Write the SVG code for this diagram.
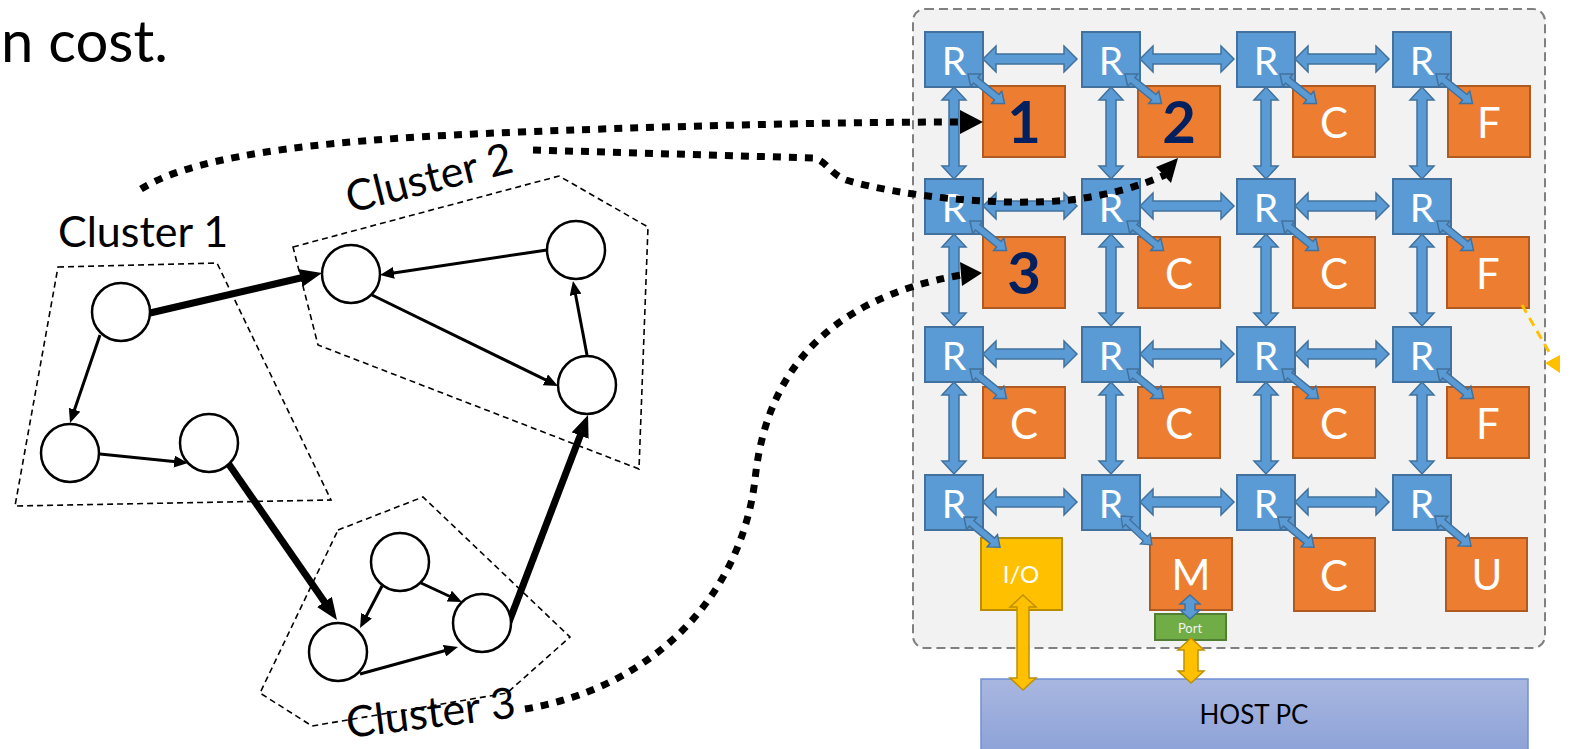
<svg xmlns="http://www.w3.org/2000/svg" xmlns:xlink="http://www.w3.org/1999/xlink" width="1575" height="749" viewBox="0 0 1575 749">
<style>
  text { font-family: Lato, "Liberation Sans", sans-serif; }
  .rt { fill: #5b9bd5; stroke: #41719c; stroke-width: 2; }
  .rl { fill: #ffffff; font-size: 39px; text-anchor: middle; }
  .tile { fill: #ed7d31; stroke: #ae5a21; stroke-width: 2; }
  .tl { fill: #ffffff; font-size: 42px; text-anchor: middle; }
  .num { fill: #002060; font-size: 58px; font-weight: bold; text-anchor: middle; }
  .barr { fill: #5b9bd5; stroke: #41719c; stroke-width: 1.5; }
  .yarr { fill: #ffc000; stroke: #bf9000; stroke-width: 1.5; }
  .nd { fill: #ffffff; stroke: #000000; stroke-width: 2.5; }
  .thin { stroke: #000000; stroke-width: 3; fill: none; marker-end: url(#mThin); }
  .thick { stroke: #000000; stroke-width: 7; fill: none; marker-end: url(#mThick); }
  .cl { fill: none; stroke: #000000; stroke-width: 1.6; stroke-dasharray: 6 4; }
  .clt { fill: #000000; font-size: 43px; }
  .dot { fill: none; stroke: #000000; stroke-width: 7; stroke-dasharray: 8 8; }
</style>
<defs>
  <marker id="mThin" markerUnits="userSpaceOnUse" markerWidth="14" markerHeight="12" refX="2" refY="6" orient="auto">
    <path d="M0,0 L14,6 L0,12 Z" fill="#000000"/>
  </marker>
  <marker id="mThick" markerUnits="userSpaceOnUse" markerWidth="22" markerHeight="18" refX="2" refY="9" orient="auto">
    <path d="M0,0 L22,9 L0,18 Z" fill="#000000"/>
  </marker>
  <path id="ha" d="M0,0 L13,-13 L13,-5 L81,-5 L81,-13 L94,0 L81,13 L81,5 L13,5 L13,13 Z"/>
  <path id="va" d="M0,0 L-12,13 L-5,13 L-5,79 L-12,79 L0,92 L12,79 L5,79 L5,13 L12,13 Z"/>
  <path id="da" d="M0,0 L10,-8 L10,-3.5 L37,-3.5 L37,-8 L47,0 L37,8 L37,3.5 L10,3.5 L10,8 Z"/>
  <linearGradient id="hostg" x1="0" y1="0" x2="0" y2="1">
    <stop offset="0" stop-color="#a9b7e0"/>
    <stop offset="1" stop-color="#8aa0d6"/>
  </linearGradient>
</defs>

<!-- heading fragment -->
<text x="1" y="62" font-size="58" fill="#000000">n cost.</text>

<!-- chip container -->
<g id="chip">
  <rect x="913" y="9" width="632" height="639" rx="12" fill="#f2f2f2" stroke="#808080" stroke-width="2" stroke-dasharray="9 5"/>
</g>

<!-- HOST PC -->
<g id="host">
  <rect x="981" y="679" width="547" height="80" fill="url(#hostg)" stroke="#6f8fd2" stroke-width="1.5"/>
  <text x="1254" y="724" font-size="26" text-anchor="middle" fill="#000000">HOST PC</text>
</g>

<!-- connectors -->
<g id="connectors">
  <g class="barr">
    <use xlink:href="#ha" x="983" y="59"/><use xlink:href="#ha" x="1140" y="59"/><use xlink:href="#ha" x="1295" y="59"/>
    <use xlink:href="#ha" x="983" y="206"/><use xlink:href="#ha" x="1140" y="206"/><use xlink:href="#ha" x="1295" y="206"/>
    <use xlink:href="#ha" x="983" y="354"/><use xlink:href="#ha" x="1140" y="354"/><use xlink:href="#ha" x="1295" y="354"/>
    <use xlink:href="#ha" x="983" y="502"/><use xlink:href="#ha" x="1140" y="502"/><use xlink:href="#ha" x="1295" y="502"/>
    <use xlink:href="#va" x="954" y="87"/><use xlink:href="#va" x="1111" y="87"/><use xlink:href="#va" x="1266" y="87"/><use xlink:href="#va" x="1422" y="87"/>
    <use xlink:href="#va" x="954" y="234"/><use xlink:href="#va" x="1111" y="234"/><use xlink:href="#va" x="1266" y="234"/><use xlink:href="#va" x="1422" y="234"/>
    <use xlink:href="#va" x="954" y="382"/><use xlink:href="#va" x="1111" y="382"/><use xlink:href="#va" x="1266" y="382"/><use xlink:href="#va" x="1422" y="382"/>
  </g>
</g>

<!-- routers -->
<g id="r11"><rect class="rt" x="925" y="32" width="58" height="55"/><text class="rl" x="954" y="75">R</text></g>
<g id="r12"><rect class="rt" x="1082" y="32" width="58" height="55"/><text class="rl" x="1111" y="75">R</text></g>
<g id="r13"><rect class="rt" x="1237" y="32" width="58" height="55"/><text class="rl" x="1266" y="75">R</text></g>
<g id="r14"><rect class="rt" x="1393" y="32" width="58" height="55"/><text class="rl" x="1422" y="75">R</text></g>
<g id="r21"><rect class="rt" x="925" y="179" width="58" height="55"/><text class="rl" x="954" y="222">R</text></g>
<g id="r22"><rect class="rt" x="1082" y="179" width="58" height="55"/><text class="rl" x="1111" y="222">R</text></g>
<g id="r23"><rect class="rt" x="1237" y="179" width="58" height="55"/><text class="rl" x="1266" y="222">R</text></g>
<g id="r24"><rect class="rt" x="1393" y="179" width="58" height="55"/><text class="rl" x="1422" y="222">R</text></g>
<g id="r31"><rect class="rt" x="925" y="327" width="58" height="55"/><text class="rl" x="954" y="370">R</text></g>
<g id="r32"><rect class="rt" x="1082" y="327" width="58" height="55"/><text class="rl" x="1111" y="370">R</text></g>
<g id="r33"><rect class="rt" x="1237" y="327" width="58" height="55"/><text class="rl" x="1266" y="370">R</text></g>
<g id="r34"><rect class="rt" x="1393" y="327" width="58" height="55"/><text class="rl" x="1422" y="370">R</text></g>
<g id="r41"><rect class="rt" x="925" y="475" width="58" height="55"/><text class="rl" x="954" y="518">R</text></g>
<g id="r42"><rect class="rt" x="1082" y="475" width="58" height="55"/><text class="rl" x="1111" y="518">R</text></g>
<g id="r43"><rect class="rt" x="1237" y="475" width="58" height="55"/><text class="rl" x="1266" y="518">R</text></g>
<g id="r44"><rect class="rt" x="1393" y="475" width="58" height="55"/><text class="rl" x="1422" y="518">R</text></g>

<!-- tiles -->
<g id="t11"><rect class="tile" x="983" y="86" width="82" height="71"/><text class="num" x="1024" y="143">1</text></g>
<g id="t12"><rect class="tile" x="1138" y="86" width="82" height="71"/><text class="num" x="1179" y="143">2</text></g>
<g id="t13"><rect class="tile" x="1293" y="86" width="82" height="71"/><text class="tl" x="1334" y="138">C</text></g>
<g id="t14"><rect class="tile" x="1448" y="86" width="82" height="71"/><text class="tl" x="1489" y="138">F</text></g>
<g id="t21"><rect class="tile" x="983" y="237" width="82" height="71"/><text class="num" x="1024" y="294">3</text></g>
<g id="t22"><rect class="tile" x="1138" y="237" width="82" height="71"/><text class="tl" x="1179" y="289">C</text></g>
<g id="t23"><rect class="tile" x="1293" y="237" width="82" height="71"/><text class="tl" x="1334" y="289">C</text></g>
<g id="t24"><rect class="tile" x="1447" y="237" width="82" height="71"/><text class="tl" x="1488" y="289">F</text></g>
<g id="t31"><rect class="tile" x="983" y="387" width="82" height="71"/><text class="tl" x="1024" y="439">C</text></g>
<g id="t32"><rect class="tile" x="1138" y="387" width="82" height="71"/><text class="tl" x="1179" y="439">C</text></g>
<g id="t33"><rect class="tile" x="1293" y="387" width="82" height="71"/><text class="tl" x="1334" y="439">C</text></g>
<g id="t34"><rect class="tile" x="1447" y="387" width="82" height="71"/><text class="tl" x="1488" y="439">F</text></g>
<g id="io"><rect x="981" y="538" width="81" height="72" fill="#ffc000" stroke="#bc8c00" stroke-width="2"/><text x="1021" y="583" font-size="24" text-anchor="middle" fill="#ffffff">I/O</text></g>
<g id="mem"><rect class="tile" x="1150" y="538" width="82" height="72"/><text class="tl" x="1191" y="590">M</text></g>
<g id="t43"><rect class="tile" x="1294" y="538" width="81" height="73"/><text class="tl" x="1334" y="591">C</text></g>
<g id="t44"><rect class="tile" x="1446" y="538" width="81" height="73"/><text class="tl" x="1487" y="590">U</text></g>
<g id="port"><rect x="1155" y="614" width="71" height="26" fill="#70ad47" stroke="#507e32" stroke-width="2"/><text x="1190" y="633" font-size="13" text-anchor="middle" fill="#f2f2f2">Port</text></g>

<!-- router to tile links and IO links -->
<g id="local-links">
  <g class="barr">
    <use xlink:href="#da" transform="translate(968,74) rotate(39)"/>
    <use xlink:href="#da" transform="translate(1125,74) rotate(39)"/>
    <use xlink:href="#da" transform="translate(1280,74) rotate(39)"/>
    <use xlink:href="#da" transform="translate(1436,74) rotate(39)"/>
    <use xlink:href="#da" transform="translate(970,221) rotate(39)"/>
    <use xlink:href="#da" transform="translate(1127,221) rotate(39)"/>
    <use xlink:href="#da" transform="translate(1282,221) rotate(39)"/>
    <use xlink:href="#da" transform="translate(1437,221) rotate(39)"/>
    <use xlink:href="#da" transform="translate(970,369) rotate(39)"/>
    <use xlink:href="#da" transform="translate(1127,369) rotate(39)"/>
    <use xlink:href="#da" transform="translate(1282,369) rotate(39)"/>
    <use xlink:href="#da" transform="translate(1437,369) rotate(39)"/>
    <use xlink:href="#da" transform="translate(964,517) rotate(40)"/>
    <use xlink:href="#da" transform="translate(1121,516) rotate(43) scale(0.9)"/>
    <use xlink:href="#da" transform="translate(1278,517) rotate(40)"/>
    <use xlink:href="#da" transform="translate(1435,516) rotate(40)"/>
    <path d="M1190,595 L1200,604 L1195,604 L1195,610 L1200,610 L1190,619 L1180,610 L1185,610 L1185,604 L1180,604 Z"/>
  </g>
  <path class="yarr" d="M1023,595 L1036,607 L1029,607 L1029,678 L1036,678 L1023,690 L1010,678 L1017,678 L1017,607 L1010,607 Z"/>
  <path class="yarr" d="M1191,638 L1204,650 L1198,650 L1198,671 L1204,671 L1191,683 L1178,671 L1184,671 L1184,650 L1178,650 Z"/>
  <line x1="1522" y1="305" x2="1549" y2="352" stroke="#ffc000" stroke-width="3" stroke-dasharray="9 6"/>
  <path d="M1545,363 L1560,355 L1560,373 Z" fill="#ffc000"/>
</g>

<!-- task graph clusters -->
<g id="cluster1">
  <polygon class="cl" points="58,267 217,263 331,500 15,506"/>
  <text class="clt" x="58" y="247">Cluster 1</text>
</g>
<g id="cluster2">
  <polygon class="cl" points="293,247 559,176 648,227 639,469 318,345"/>
  <text class="clt" transform="translate(350,213) rotate(-14)">Cluster 2</text>
</g>
<g id="cluster3">
  <polygon class="cl" points="338,530 423,497 570,637 507,693 312,726 260,693"/>
  <text class="clt" transform="translate(348,738) rotate(-7)">Cluster 3</text>
</g>

<g id="graph-edges">
  <line class="thin" x1="100" y1="335" x2="73.9" y2="411.6"/>
  <line class="thin" x1="100" y1="454" x2="176.1" y2="461.8"/>
  <line class="thin" x1="547" y1="250" x2="391.9" y2="273.2"/>
  <line class="thin" x1="372" y1="295" x2="547.2" y2="380.7"/>
  <line class="thin" x1="587" y1="355" x2="575.2" y2="292.8"/>
  <line class="thin" x1="382" y1="586" x2="365.6" y2="617.4"/>
  <line class="thin" x1="421" y1="583" x2="451.1" y2="597"/>
  <line class="thin" x1="360" y1="674" x2="446.4" y2="650.2"/>
  <line class="thick" x1="150" y1="313" x2="302.5" y2="277.5"/>
  <line class="thick" x1="228" y1="463" x2="325.6" y2="603.6"/>
  <line class="thick" x1="509" y1="622" x2="580.9" y2="433.7"/>
</g>

<g id="n-a"><circle class="nd" cx="121" cy="312" r="29"/></g>
<g id="n-b"><circle class="nd" cx="70" cy="453" r="29"/></g>
<g id="n-c"><circle class="nd" cx="209" cy="443" r="29"/></g>
<g id="n-d"><circle class="nd" cx="351" cy="274" r="29"/></g>
<g id="n-e"><circle class="nd" cx="576" cy="250" r="29"/></g>
<g id="n-f"><circle class="nd" cx="587" cy="385" r="29"/></g>
<g id="n-g"><circle class="nd" cx="400" cy="562" r="29"/></g>
<g id="n-h"><circle class="nd" cx="338" cy="652" r="29"/></g>
<g id="n-i"><circle class="nd" cx="482" cy="623" r="29"/></g>

<!-- mapping arrows -->
<g id="mapping">
  <path class="dot" d="M141,189 C200,152 340,139 520,132 S850,122 962,122"/>
  <path d="M983,122 L960,110 L960,134 Z" fill="#000000"/>
  <path class="dot" d="M533,150 L813,158 C826,160 830,174 846,180 C900,196 1000,207 1070,200 C1110,195 1140,186 1165,175"/>
  <path d="M1178,158 L1156,167 L1171,183 Z" fill="#000000"/>
  <path class="dot" d="M525,709 C650,688 740,600 755,480 C765,380 820,300 961,275"/>
  <path d="M982,273 L960,262 L962,286 Z" fill="#000000"/>
</g>
</svg>
